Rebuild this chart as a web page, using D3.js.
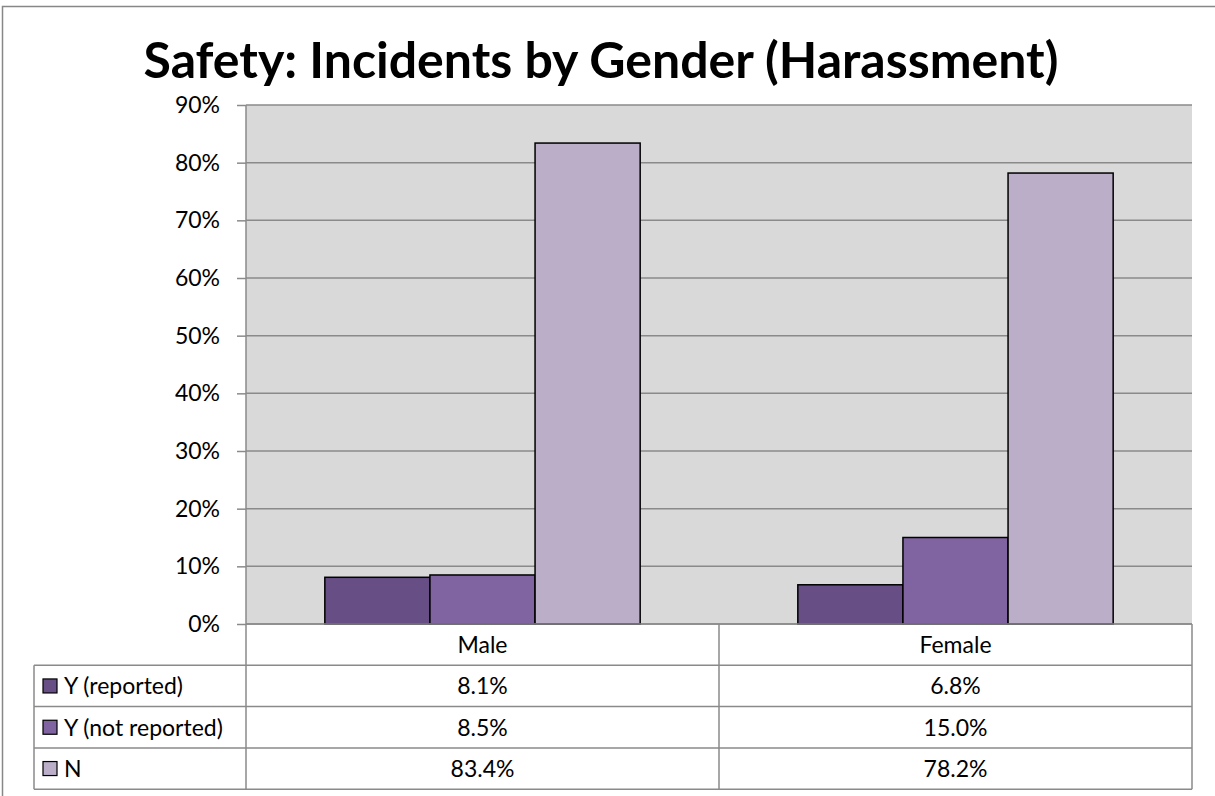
<!DOCTYPE html>
<html><head><meta charset="utf-8">
<script src="https://cdn.jsdelivr.net/npm/d3@7"></script>
<style>body{margin:0;background:#fff}svg{display:block}text{font-family:Lato,"Open Sans",sans-serif;fill:#000}</style>
</head><body>
<script>
const title = "Safety: Incidents by Gender (Harassment)";
const categories = ["Male", "Female"];
const seriesNames = ["Y (reported)", "Y (not reported)", "N"];
const seriesColors = ["#674F85", "#8064A2", "#BAAEC9"];
const yReported = [0.081, 0.068];
const yNotReported = [0.085, 0.150];
const nValues = [0.834, 0.782];
const tickValues = [0, 0.1, 0.2, 0.3, 0.4, 0.5, 0.6, 0.7, 0.8, 0.9];
const seriesValues = [yReported, yNotReported, nValues];

const W = 1215, H = 796;
const L = 246, R = 1192, T = 105, B = 624;
const rowH = 41.3;
const tableLeft = 34;

const svg = d3.select("body").append("svg").attr("width", W).attr("height", H);

svg.append("rect").attr("x", 2.5).attr("y", 6.5).attr("width", 1230).attr("height", 820)
  .attr("fill", "#fff").attr("stroke", "#878787").attr("stroke-width", 1.5);

function fit(txt, weight, target) {
  const t = svg.append("text").attr("font-size", 100).attr("font-weight", weight).text(txt);
  const w = t.node().getComputedTextLength();
  t.remove();
  return 100 * target / w;
}
const fsTitle = Math.min(50, fit(title, "bold", 950));
const fs = Math.min(23, fit("Y (not reported)", "normal", 172));

svg.append("text").attr("x", 601).attr("y", 78).attr("text-anchor", "middle")
  .attr("font-size", fsTitle).attr("font-weight", "bold").text(title);

const x0 = d3.scaleBand().domain(categories).range([L, R]).padding(0);
const x1 = d3.scaleBand().domain(seriesNames).range([0, x0.bandwidth()]).paddingInner(0).paddingOuter(0.75);
const y = d3.scaleLinear().domain([0, 0.9]).range([B, T]);

svg.append("rect").attr("x", L).attr("y", T).attr("width", R - L).attr("height", B - T).attr("fill", "#D9D9D9");

svg.append("g").selectAll("line").data(tickValues).join("line")
  .attr("x1", L).attr("x2", R).attr("y1", d => y(d)).attr("y2", d => y(d))
  .attr("stroke", "#8A8A8A").attr("stroke-width", 1.5);

const data = [];
categories.forEach((c, i) => seriesNames.forEach((s, j) => data.push({c, s, v: seriesValues[j][i], color: seriesColors[j]})));
svg.append("g").selectAll("rect").data(data).join("rect")
  .attr("x", d => x0(d.c) + x1(d.s)).attr("width", x1.bandwidth())
  .attr("y", d => y(d.v)).attr("height", d => y(0) - y(d.v))
  .attr("fill", d => d.color).attr("stroke", "#000").attr("stroke-width", 1.5);

const yAxis = d3.axisLeft(y).tickValues(tickValues).tickFormat(d3.format(".0%")).tickSize(9).tickPadding(17);
const ga = svg.append("g").attr("transform", `translate(${L},0)`).call(yAxis);
ga.select(".domain").remove();
ga.selectAll(".tick line").attr("stroke", "#8A8A8A").attr("stroke-width", 1.5);
ga.selectAll(".tick text").attr("font-size", fs).attr("font-family", "Lato").attr("fill", "#000");
svg.append("line").attr("x1", L).attr("x2", L).attr("y1", T).attr("y2", B + rowH * 4)
  .attr("stroke", "#8A8A8A").attr("stroke-width", 1.5);

const tb = svg.append("g");
const gridC = "#8A8A8A";
for (let r = 0; r <= 4; r++) {
  const yy = B + r * rowH;
  tb.append("line").attr("x1", r === 0 ? L : tableLeft).attr("x2", R).attr("y1", yy).attr("y2", yy)
    .attr("stroke", gridC).attr("stroke-width", 1.5);
}
tb.append("line").attr("x1", tableLeft).attr("x2", tableLeft).attr("y1", B + rowH).attr("y2", B + 4 * rowH).attr("stroke", gridC).attr("stroke-width", 1.5);
[x0("Female"), R].forEach(xx => tb.append("line").attr("x1", xx).attr("x2", xx).attr("y1", B).attr("y2", B + 4 * rowH).attr("stroke", gridC).attr("stroke-width", 1.5));

const dy = fs * 0.36;
categories.forEach(c => tb.append("text").attr("x", x0(c) + x0.bandwidth() / 2).attr("y", B + rowH / 2 + dy)
  .attr("text-anchor", "middle").attr("font-size", fs).text(c));

seriesNames.forEach((s, j) => {
  const cy = B + rowH * (j + 1) + rowH / 2;
  tb.append("rect").attr("x", 43).attr("y", cy - 7).attr("width", 14).attr("height", 14)
    .attr("fill", seriesColors[j]).attr("stroke", "#000").attr("stroke-width", 1.2);
  tb.append("text").attr("x", 64).attr("y", cy + dy).attr("font-size", fs).text(s);
  categories.forEach((c, i) => tb.append("text").attr("x", x0(c) + x0.bandwidth() / 2).attr("y", cy + dy)
    .attr("text-anchor", "middle").attr("font-size", fs).text(d3.format(".1%")(seriesValues[j][i])));
});
</script>
</body></html>
